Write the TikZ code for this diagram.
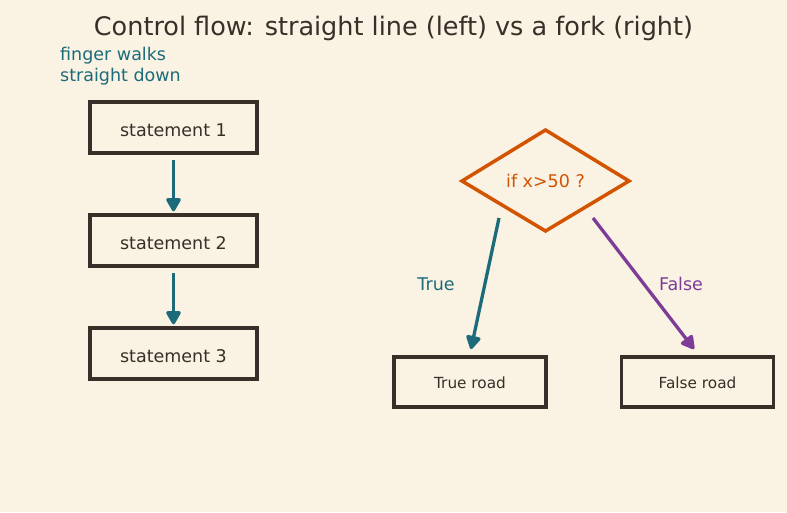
\documentclass[tikz,border=0pt]{standalone}
\usepackage{fontspec}
\setmainfont{DejaVu Sans}
\usetikzlibrary{arrows.meta,shapes.geometric}
\definecolor{bg}{HTML}{FAF2E3}
\definecolor{ink}{HTML}{3A2E28}
\definecolor{teal}{HTML}{1B6B7A}
\definecolor{orng}{HTML}{D35400}
\definecolor{purp}{HTML}{7D3C98}
\tikzset{
  stmt/.style={draw=ink, line width=3.5pt, minimum width=167pt, minimum height=51pt, inner sep=0pt, text=ink, text height=18.5pt, text depth=0pt, font=\fontsize{17.5}{21}\selectfont},
  road/.style={draw=ink, line width=3.5pt, minimum width=152pt, minimum height=50pt, inner sep=0pt, text=ink, text height=13.3pt, text depth=0pt, font=\fontsize{15.3}{18}\selectfont},
  flow/.style={line width=3.3pt, -{Triangle[length=15pt,width=16pt,round]}},
  lab/.style={font=\fontsize{17.5}{21}\selectfont},
}
\begin{document}
\begin{tikzpicture}[x=1pt,y=-1pt]
\fill[bg] (0,0) rectangle (787,512);
\useasboundingbox (0,0) rectangle (787,512);
\node[text=ink, font=\fontsize{25.5}{30}\selectfont] (title) at (393.5,28) {Control flow: straight line (left) vs a fork (right)};
\node[text=teal, lab, align=left, anchor=west, inner sep=0pt] (note) at (60,66) {finger walks\\straight down};
\node[stmt] (s1) at (173.5,127.5) {statement 1};
\node[stmt] (s2) at (173.5,240.5) {statement 2};
\node[stmt] (s3) at (173.5,353.5) {statement 3};
\draw[flow, teal] ([yshift=-5pt]s1.south) -- ([yshift=2pt]s2.north);
\draw[flow, teal] ([yshift=-5pt]s2.south) -- ([yshift=2pt]s3.north);
\draw[orng, line width=3.5pt, line join=miter] (462,181) -- (545.5,130) -- (629,181) -- (545.5,231) -- cycle;
\node[text=orng, lab] (dec) at (545.5,181) {if x>50 ?};
\node[road] (tr) at (470,382) {True road};
\node[road] (fr) at (697.5,382) {False road};
\coordinate (tstart) at (499,218);
\coordinate (fstart) at (593,218);
\coordinate (tend) at (471,349);
\coordinate (fend) at (694,349);
\draw[flow, teal] (tstart) -- (tend);
\draw[flow, purp] (fstart) -- (fend);
\node[text=teal, lab] (tl) at (436,284) {True};
\node[text=purp, lab] (fl) at (681,284) {False};
\end{tikzpicture}
\end{document}
